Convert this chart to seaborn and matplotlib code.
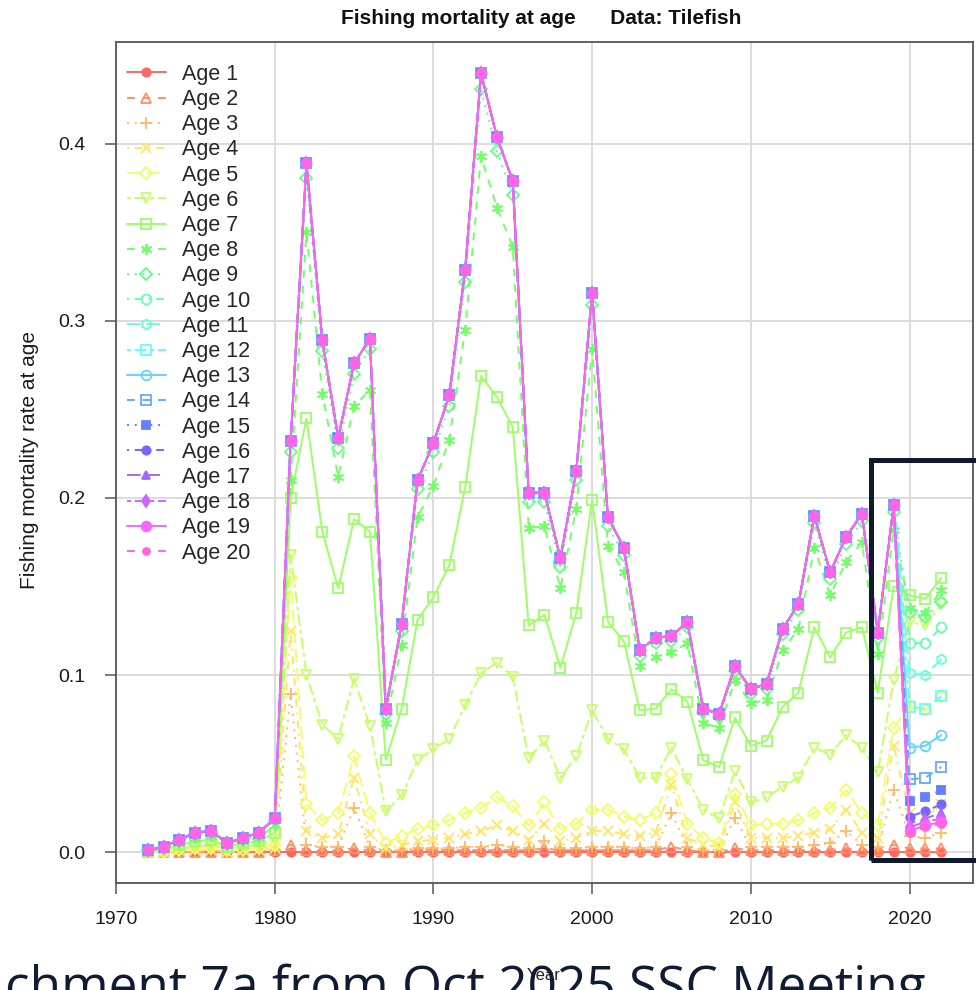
import colorsys
import matplotlib
matplotlib.use("Agg")
import matplotlib.pyplot as plt
from matplotlib.patches import Rectangle
from matplotlib.lines import Line2D
import seaborn as sns

# ---------------- data ----------------
years = list(range(1972, 2023))
age_labels = ["Age %d" % i for i in range(1, 21)]

f_age1 = [0.000, 0.000, 0.000, 0.000, 0.000, 0.000, 0.000, 0.000, 0.000,
          0.000, 0.000, 0.000, 0.000, 0.000, 0.000, 0.000, 0.000, 0.000, 0.000,
          0.000, 0.000, 0.000, 0.000, 0.000, 0.000, 0.000, 0.000, 0.000, 0.000,
          0.000, 0.000, 0.000, 0.000, 0.000, 0.000, 0.000, 0.000, 0.000, 0.000,
          0.000, 0.000, 0.000, 0.000, 0.000, 0.000, 0.000, 0.000, 0.000, 0.000,
          0.000, 0.000]
f_age2 = [0.000, 0.000, 0.000, 0.000, 0.000, 0.000, 0.000, 0.000, 0.001,
          0.004, 0.001, 0.001, 0.001, 0.002, 0.001, 0.000, 0.000, 0.001, 0.001,
          0.001, 0.001, 0.001, 0.001, 0.001, 0.001, 0.002, 0.001, 0.001, 0.001,
          0.001, 0.001, 0.001, 0.001, 0.003, 0.001, 0.000, 0.000, 0.002, 0.001,
          0.001, 0.001, 0.001, 0.001, 0.001, 0.002, 0.001, 0.001, 0.004, 0.002,
          0.002, 0.002]
f_age3 = [0.000, 0.000, 0.000, 0.000, 0.001, 0.000, 0.000, 0.001, 0.001,
          0.089, 0.004, 0.003, 0.003, 0.025, 0.003, 0.001, 0.001, 0.002, 0.002,
          0.002, 0.003, 0.003, 0.004, 0.003, 0.002, 0.006, 0.002, 0.002, 0.003,
          0.003, 0.003, 0.002, 0.003, 0.022, 0.003, 0.001, 0.001, 0.019, 0.003,
          0.003, 0.003, 0.003, 0.004, 0.005, 0.012, 0.004, 0.003, 0.035, 0.009,
          0.008, 0.011]
f_age4 = [0.000, 0.000, 0.001, 0.001, 0.001, 0.000, 0.001, 0.001, 0.002,
          0.125, 0.012, 0.008, 0.010, 0.042, 0.010, 0.002, 0.004, 0.006, 0.007,
          0.008, 0.010, 0.012, 0.015, 0.012, 0.007, 0.016, 0.006, 0.008, 0.012,
          0.012, 0.010, 0.009, 0.011, 0.038, 0.008, 0.004, 0.003, 0.028, 0.008,
          0.008, 0.008, 0.009, 0.011, 0.013, 0.024, 0.011, 0.008, 0.060, 0.022,
          0.020, 0.027]
f_age5 = [0.000, 0.000, 0.001, 0.002, 0.002, 0.001, 0.001, 0.002, 0.004,
          0.155, 0.027, 0.018, 0.022, 0.054, 0.022, 0.005, 0.009, 0.013, 0.015,
          0.018, 0.022, 0.025, 0.031, 0.026, 0.015, 0.028, 0.013, 0.016, 0.024,
          0.024, 0.020, 0.018, 0.022, 0.044, 0.016, 0.008, 0.005, 0.033, 0.015,
          0.016, 0.016, 0.018, 0.022, 0.025, 0.035, 0.022, 0.015, 0.070, 0.083,
          0.080, 0.088]
f_age6 = [0.000, 0.001, 0.002, 0.003, 0.004, 0.002, 0.003, 0.004, 0.007,
          0.168, 0.100, 0.072, 0.064, 0.098, 0.071, 0.023, 0.032, 0.052, 0.058,
          0.064, 0.083, 0.101, 0.107, 0.099, 0.053, 0.063, 0.042, 0.054, 0.080,
          0.064, 0.058, 0.042, 0.042, 0.059, 0.041, 0.024, 0.019, 0.046, 0.028,
          0.031, 0.037, 0.042, 0.059, 0.055, 0.066, 0.059, 0.045, 0.097, 0.130,
          0.128, 0.140]
f_age7 = [0.000, 0.002, 0.004, 0.006, 0.007, 0.003, 0.005, 0.006, 0.011,
          0.200, 0.245, 0.181, 0.149, 0.188, 0.181, 0.052, 0.081, 0.131, 0.144,
          0.162, 0.206, 0.269, 0.257, 0.240, 0.128, 0.134, 0.104, 0.135, 0.199,
          0.130, 0.119, 0.080, 0.081, 0.092, 0.085, 0.052, 0.048, 0.076, 0.060,
          0.063, 0.082, 0.090, 0.127, 0.110, 0.124, 0.127, 0.090, 0.150, 0.145,
          0.143, 0.155]
f_age8 = [0.001, 0.002, 0.005, 0.008, 0.009, 0.004, 0.006, 0.008, 0.015,
          0.210, 0.350, 0.259, 0.212, 0.252, 0.261, 0.073, 0.117, 0.189, 0.207,
          0.233, 0.295, 0.393, 0.364, 0.342, 0.183, 0.184, 0.149, 0.194, 0.284,
          0.173, 0.158, 0.105, 0.110, 0.113, 0.118, 0.073, 0.070, 0.097, 0.084,
          0.086, 0.114, 0.126, 0.172, 0.145, 0.164, 0.175, 0.112, 0.182, 0.138,
          0.135, 0.148]
f_age9 = [0.001, 0.003, 0.006, 0.010, 0.011, 0.005, 0.007, 0.010, 0.018,
          0.226, 0.381, 0.283, 0.228, 0.270, 0.284, 0.078, 0.125, 0.205, 0.226,
          0.252, 0.322, 0.431, 0.396, 0.371, 0.198, 0.198, 0.161, 0.210, 0.309,
          0.184, 0.168, 0.111, 0.118, 0.119, 0.127, 0.079, 0.076, 0.102, 0.089,
          0.092, 0.123, 0.137, 0.186, 0.154, 0.174, 0.187, 0.121, 0.192, 0.135,
          0.133, 0.141]
# fully selected ages (10-20) share the same F through 2019
f_full_1972_2019 = [0.001, 0.003, 0.007, 0.011, 0.012, 0.005, 0.008, 0.011, 0.019,
                    0.232, 0.389, 0.289, 0.234, 0.276, 0.290, 0.081, 0.129, 0.210, 0.231,
                    0.258, 0.329, 0.440, 0.404, 0.379, 0.203, 0.203, 0.166, 0.215, 0.316,
                    0.189, 0.172, 0.114, 0.121, 0.122, 0.130, 0.081, 0.078, 0.105, 0.092,
                    0.095, 0.126, 0.140, 0.190, 0.158, 0.178, 0.191, 0.124, 0.196]
# 2020-2022 values for ages 10-20
tail_age10 = [0.118, 0.118, 0.127]
tail_age11 = [0.101, 0.100, 0.109]
tail_age12 = [0.082, 0.081, 0.088]
tail_age13 = [0.059, 0.060, 0.066]
tail_age14 = [0.041, 0.042, 0.048]
tail_age15 = [0.029, 0.031, 0.035]
tail_age16 = [0.020, 0.023, 0.027]
tail_age17 = [0.016, 0.019, 0.022]
tail_age18 = [0.014, 0.017, 0.019]
tail_age19 = [0.012, 0.015, 0.017]
tail_age20 = [0.011, 0.014, 0.016]

series = [f_age1, f_age2, f_age3, f_age4, f_age5, f_age6, f_age7, f_age8, f_age9,
          f_full_1972_2019 + tail_age10, f_full_1972_2019 + tail_age11,
          f_full_1972_2019 + tail_age12, f_full_1972_2019 + tail_age13,
          f_full_1972_2019 + tail_age14, f_full_1972_2019 + tail_age15,
          f_full_1972_2019 + tail_age16, f_full_1972_2019 + tail_age17,
          f_full_1972_2019 + tail_age18, f_full_1972_2019 + tail_age19,
          f_full_1972_2019 + tail_age20]

x_ticks = [1970, 1980, 1990, 2000, 2010, 2020]
y_ticks = [0.0, 0.1, 0.2, 0.3, 0.4]
y_tick_labels = ["0.0", "0.1", "0.2", "0.3", "0.4"]

# ---------------- styles ----------------
ls_cycle = ["-", (0, (4, 4)), (0, (1, 3)), (0, (1, 3, 4, 3)), (0, (7, 3)), (0, (2, 2, 6, 2))]
markers = ["o", "^", "+", "x", "D", "v", "s", (6, 2, 0), "D", "o",
           "h", "s", "o", "s", "s", "o", "^", "d", "o", "o"]
filled = [True, False, True, True, False, False, False, True, False, False,
          False, False, False, False, True, True, True, True, True, True]
msizes = [6, 7, 8, 7, 6, 7, 7, 8, 6, 7, 7, 7, 7, 7, 6, 6, 6, 6, 7, 5]

sns.set_theme(style="white")
plt.rcParams["font.family"] = ["Liberation Sans", "DejaVu Sans"]

fig = plt.figure(figsize=(9.76, 9.90), dpi=100)
ax = fig.add_axes([116 / 976, 1 - 883 / 990, (973 - 116) / 976, (883 - 42) / 990])

handles = []
for i, (lab, vals) in enumerate(zip(age_labels, series)):
    h = (i / 19.0) * 0.87
    col = colorsys.hsv_to_rgb(h, 0.6, 1.0)
    sns.lineplot(x=years, y=vals, ax=ax, color=col, linestyle=ls_cycle[i % 6],
                 lw=1.4, marker=markers[i], markersize=msizes[i],
                 markerfacecolor=(col if filled[i] else "none"),
                 markeredgecolor=col, markeredgewidth=1.3, zorder=3 + i)
    handles.append(Line2D([], [], color=col, linestyle=ls_cycle[i % 6], lw=1.4,
                          marker=markers[i], markersize=msizes[i],
                          markerfacecolor=(col if filled[i] else "none"),
                          markeredgecolor=col, markeredgewidth=1.3))

ax.set_xlim(1970, 2024)
ax.set_ylim(-0.0175, 0.4576)
ax.set_xticks(x_ticks)
ax.set_yticks(y_ticks)
ax.set_yticklabels(y_tick_labels)
ax.grid(True, color="#d9d9d9", lw=1.3, zorder=0)
ax.set_axisbelow(True)
for s in ax.spines.values():
    s.set_color("#555555")
    s.set_linewidth(1.3)
ax.tick_params(axis="both", direction="out", length=8, width=1.1, color="#555555",
               labelsize=14, labelcolor="#1a1a1a", bottom=True, left=True)
ax.tick_params(axis="x", pad=12)
ax.tick_params(axis="y", pad=14)
ax.set_xlabel("")
ax.set_ylabel("")

ax.legend(handles, age_labels, loc="upper left", bbox_to_anchor=(0.0128, 0.974),
          frameon=False, fontsize=15.5, handlelength=1.8, handletextpad=0.75,
          labelspacing=0.195, borderpad=0, borderaxespad=0)

fig.text(541 / 976, 1 - 18 / 990, "Fishing mortality at age      Data: Tilefish",
         ha="center", va="center", fontsize=15, fontweight="bold", color="#111111")
fig.text(30 / 976, 1 - 460 / 990, "Fishing mortality rate at age", rotation=90,
         ha="center", va="center", fontsize=15, color="#1a1a1a")
fig.text(544 / 976, 1 - 975 / 990, "Year", ha="center", va="center", fontsize=12,
         color="#222222", zorder=1)

# slide annotation overlay
fig.patches.append(Rectangle((871 / 976, 1 - 860 / 990), 0.3, (860 - 460) / 990,
                             transform=fig.transFigure, fill=False, ec="#0e1a2e",
                             lw=3.6, clip_on=False, zorder=20))
fig.text(5 / 976, 1 - 1003 / 990, "chment 7a from Oct 2025 SSC Meeting",
         ha="left", va="baseline", fontsize=37, color="#0f1c33",
         family=["Open Sans", "DejaVu Sans"], zorder=30)

fig.savefig("out.png", dpi=100)
